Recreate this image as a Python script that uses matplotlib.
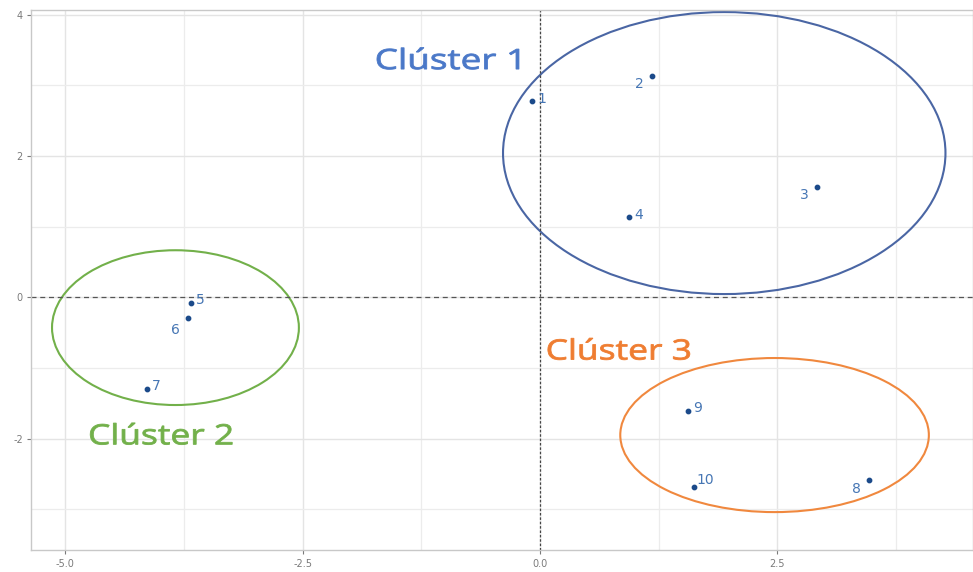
import matplotlib.pyplot as plt
from matplotlib.patches import Ellipse, PathPatch
from matplotlib.textpath import TextPath
from matplotlib.font_manager import FontProperties
from matplotlib.transforms import Affine2D, IdentityTransform
from matplotlib.ticker import MultipleLocator

plt.rcParams['axes.unicode_minus'] = False

# Coordenadas de las observaciones (dos primeras componentes)
etiquetas = ['1', '2', '3', '4', '5', '6', '7', '8', '9', '10']
dim1 = [-0.08, 1.18, 2.92, 0.94, -3.68, -3.71, -4.14, 3.46, 1.56, 1.62]
dim2 = [2.77, 3.13, 1.56, 1.13, -0.08, -0.30, -1.30, -2.59, -1.61, -2.69]

# desplazamiento de cada etiqueta en puntos (tipo ggrepel)
desplaz = [(7, 2), (-9, -6), (-9, -6), (7, 2), (7, 2), (-9, -8), (7, 2),
           (-9, -6), (7, 2), (8, 5)]

# Clústeres: nombre, centro, ancho, alto, color, posición del texto
clusters = ['Clúster 1', 'Clúster 2', 'Clúster 3']
centros = [(1.94, 2.04), (-3.84, -0.43), (2.47, -1.95)]
anchos = [4.66, 2.60, 3.25]
altos = [3.99, 2.19, 2.18]
col_elipse = ['#4a66a4', '#72b04a', '#f0883e']
col_texto = ['#4a78c8', '#72b04a', '#ef7d31']
pos_texto = [(-0.97, 3.37), (-3.99, -1.94), (0.83, -0.74)]

fig = plt.figure(figsize=(9.73, 5.72), dpi=100)
ax = fig.add_axes([0.032, 0.038, 0.968, 0.944])

ax.set_xlim(-5.36, 4.56)
ax.set_ylim(-3.58, 4.06)

ax.xaxis.set_major_locator(MultipleLocator(2.5))
ax.xaxis.set_minor_locator(MultipleLocator(1.25))
ax.yaxis.set_major_locator(MultipleLocator(2))
ax.yaxis.set_minor_locator(MultipleLocator(1))
ax.grid(which='major', color='#e4e4e4', linewidth=1.0)
ax.grid(which='minor', color='#ececec', linewidth=0.9)
ax.set_axisbelow(True)
ax.set_xticks([-5, -2.5, 0, 2.5])
ax.set_xticklabels(['-5.0', '-2.5', '0.0', '2.5'])
ax.set_yticks([-2, 0, 2, 4])
ax.tick_params(which='major', labelsize=7, colors='#7a7a7a', length=3, pad=3)
ax.tick_params(which='minor', length=0)
for s in ax.spines.values():
    s.set_color('#c8c8c8')
    s.set_linewidth(1.0)

ax.axhline(0, color='#555555', linestyle=(0, (4, 3)), linewidth=0.9)
ax.axvline(0, color='#444444', linestyle=(0, (2, 1.5)), linewidth=0.9)

for c, w, h, col in zip(centros, anchos, altos, col_elipse):
    ax.add_patch(Ellipse(c, w, h, fill=False, edgecolor=col, linewidth=1.5))

ax.scatter(dim1, dim2, s=10, color='#1b4a8a', zorder=3)
for lab, x, y, d in zip(etiquetas, dim1, dim2, desplaz):
    ax.annotate(lab, (x, y), xytext=d, textcoords='offset points',
                fontsize=10, color='#4676b4', ha='center', va='center')

# títulos de clúster, algo ensanchados en horizontal
fuente = FontProperties(family='Open Sans')
alto_cap = 20.0      # px
ancho_txt = 142.0    # px
for nom, p, col in zip(clusters, pos_texto, col_texto):
    tp = TextPath((0, 0), nom, size=alto_cap / 0.714, prop=fuente)
    ext = tp.get_extents()
    sx = ancho_txt / ext.width
    cx, cy = ax.transData.transform(p)
    tr = (Affine2D().translate(-ext.x0 - ext.width / 2, -alto_cap / 2)
          .scale(sx, 1.0).translate(cx, cy))
    ax.add_patch(PathPatch(tr.transform_path(tp), transform=IdentityTransform(),
                           facecolor=col, edgecolor=col, linewidth=0.6,
                           zorder=4))

fig.savefig('out.png', dpi=100)
